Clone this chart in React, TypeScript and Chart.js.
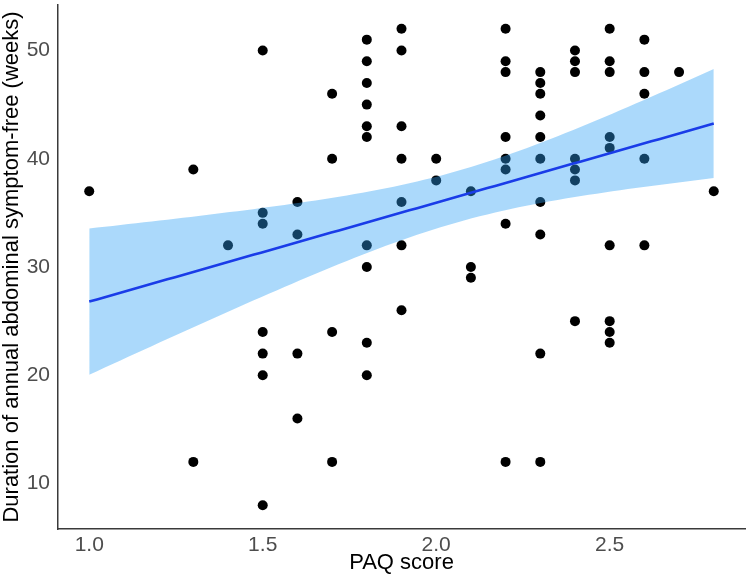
import React, { useEffect, useRef } from "react";
import { Chart, registerables } from "chart.js";

Chart.register(...registerables);

// PAQ score groups (x) and the symptom-free durations observed at each score (y)
const paqScores = [1.0, 1.3, 1.4, 1.5, 1.6, 1.7, 1.8, 1.9, 2.0, 2.1, 2.2, 2.3, 2.4, 2.5, 2.6, 2.7, 2.8];
const durations1_0 = [37];
const durations1_3 = [39, 12];
const durations1_4 = [32];
const durations1_5 = [50, 35, 34, 24, 22, 20, 8];
const durations1_6 = [36, 33, 22, 16];
const durations1_7 = [46, 40, 24, 12];
const durations1_8 = [51, 49, 47, 45, 43, 42, 32, 30, 23, 20];
const durations1_9 = [52, 50, 43, 40, 36, 32, 26];
const durations2_0 = [40, 38];
const durations2_1 = [37, 30, 29];
const durations2_2 = [52, 49, 48, 42, 40, 39, 34, 12];
const durations2_3 = [48, 47, 46, 44, 42, 40, 36, 33, 22, 12];
const durations2_4 = [50, 49, 48, 40, 39, 38, 25];
const durations2_5 = [52, 49, 48, 42, 41, 32, 25, 24, 23];
const durations2_6 = [51, 48, 46, 40, 32];
const durations2_7 = [48];
const durations2_8 = [37];

const durationGroups = [
  durations1_0, durations1_3, durations1_4, durations1_5, durations1_6, durations1_7,
  durations1_8, durations1_9, durations2_0, durations2_1, durations2_2, durations2_3,
  durations2_4, durations2_5, durations2_6, durations2_7, durations2_8,
];

const xTicks = [1.0, 1.5, 2.0, 2.5];
const yTicks = [10, 20, 30, 40, 50];
const xTitle = "PAQ score";
const yTitle = "Duration of annual abdominal symptom-free (weeks)";

const FONT = "'Liberation Sans', Arial, Helvetica, sans-serif";

function buildPoints() {
  const pts: { x: number; y: number }[] = [];
  paqScores.forEach((x, i) => {
    durationGroups[i].forEach((y) => pts.push({ x, y }));
  });
  return pts;
}

// Linear regression with 95% confidence band (like geom_smooth(method = "lm"))
function regression(pts: { x: number; y: number }[]) {
  const n = pts.length;
  const mx = pts.reduce((s, p) => s + p.x, 0) / n;
  const my = pts.reduce((s, p) => s + p.y, 0) / n;
  let sxx = 0, sxy = 0;
  pts.forEach((p) => {
    sxx += (p.x - mx) * (p.x - mx);
    sxy += (p.x - mx) * (p.y - my);
  });
  const slope = sxy / sxx;
  const intercept = my - slope * mx;
  let sse = 0;
  pts.forEach((p) => {
    const r = p.y - (intercept + slope * p.x);
    sse += r * r;
  });
  const s = Math.sqrt(sse / (n - 2));
  const t = 1.99;
  const xmin = Math.min(...pts.map((p) => p.x));
  const xmax = Math.max(...pts.map((p) => p.x));
  const steps = 80;
  const line: { x: number; y: number }[] = [];
  const upper: { x: number; y: number }[] = [];
  const lower: { x: number; y: number }[] = [];
  for (let i = 0; i <= steps; i++) {
    const x = xmin + ((xmax - xmin) * i) / steps;
    const yhat = intercept + slope * x;
    const se = s * Math.sqrt(1 / n + ((x - mx) * (x - mx)) / sxx);
    line.push({ x, y: yhat });
    upper.push({ x, y: yhat + t * se });
    lower.push({ x, y: yhat - t * se });
  }
  return { line, upper, lower };
}

export default function App() {
  const canvasRef = useRef<HTMLCanvasElement | null>(null);

  useEffect(() => {
    const canvas = canvasRef.current;
    if (!canvas) return;
    const pts = buildPoints();
    const { line, upper, lower } = regression(pts);

    const chart = new Chart(canvas, {
      type: "scatter",
      data: {
        datasets: [
          {
            type: "line",
            data: line,
            borderColor: "#1a3ce8",
            borderWidth: 2.6,
            pointRadius: 0,
            fill: false,
            order: 0,
          } as any,
          {
            type: "line",
            data: upper,
            borderWidth: 0,
            borderColor: "rgba(0,0,0,0)",
            pointRadius: 0,
            backgroundColor: "rgba(45,160,245,0.4)",
            fill: 2,
            order: 1,
          } as any,
          {
            type: "line",
            data: lower,
            borderWidth: 0,
            borderColor: "rgba(0,0,0,0)",
            pointRadius: 0,
            fill: false,
            order: 2,
          } as any,
          {
            type: "scatter",
            data: pts,
            backgroundColor: "#000000",
            borderWidth: 0,
            pointRadius: 5,
            order: 3,
          } as any,
        ],
      },
      options: {
        animation: false,
        responsive: false,
        devicePixelRatio: 1,
        layout: { padding: { top: 3, right: 4, left: 0, bottom: 0 } },
        plugins: {
          legend: { display: false },
          tooltip: { enabled: false },
        },
        scales: {
          x: {
            type: "linear",
            min: 0.91,
            max: 2.89,
            grid: { display: false, drawTicks: false },
            border: { display: true, color: "#3a3a3a", width: 1.5 },
            afterBuildTicks: (scale: any) => {
              scale.ticks = xTicks.map((v) => ({ value: v }));
            },
            afterFit: (scale: any) => {
              scale.height = 51;
              scale.paddingLeft = 0;
              scale.paddingRight = 0;
            },
            ticks: {
              padding: 4,
              color: "#4d4d4d",
              font: { family: FONT, size: 21 },
              maxRotation: 0,
              autoSkip: false,
              callback: (v: any) => Number(v).toFixed(1),
            },
            title: {
              display: true,
              text: xTitle,
              color: "#000000",
              font: { family: FONT, size: 22, lineHeight: 1.2 },
              padding: { top: 0, bottom: 4 },
            },
          },
          y: {
            type: "linear",
            min: 5.8,
            max: 54.2,
            grid: { display: false, drawTicks: false },
            border: { display: true, color: "#3a3a3a", width: 1.5 },
            afterBuildTicks: (scale: any) => {
              scale.ticks = yTicks.map((v) => ({ value: v }));
            },
            afterFit: (scale: any) => {
              scale.width = 58;
              scale.paddingTop = 0;
              scale.paddingBottom = 0;
            },
            ticks: {
              padding: 8,
              color: "#4d4d4d",
              font: { family: FONT, size: 21 },
              autoSkip: false,
              callback: (v: any) => String(v),
            },
            title: {
              display: true,
              text: yTitle,
              color: "#000000",
              font: { family: FONT, size: 22, lineHeight: 1.05 },
              padding: { top: 0, bottom: 0 },
            },
          },
        },
      } as any,
    });

    return () => {
      chart.destroy();
    };
  }, []);

  return (
    <div style={{ position: "absolute", left: 0, top: 0, width: 750, height: 580, background: "#ffffff" }}>
      <canvas ref={canvasRef} width={750} height={580} style={{ width: 750, height: 580, display: "block" }} />
    </div>
  );
}
